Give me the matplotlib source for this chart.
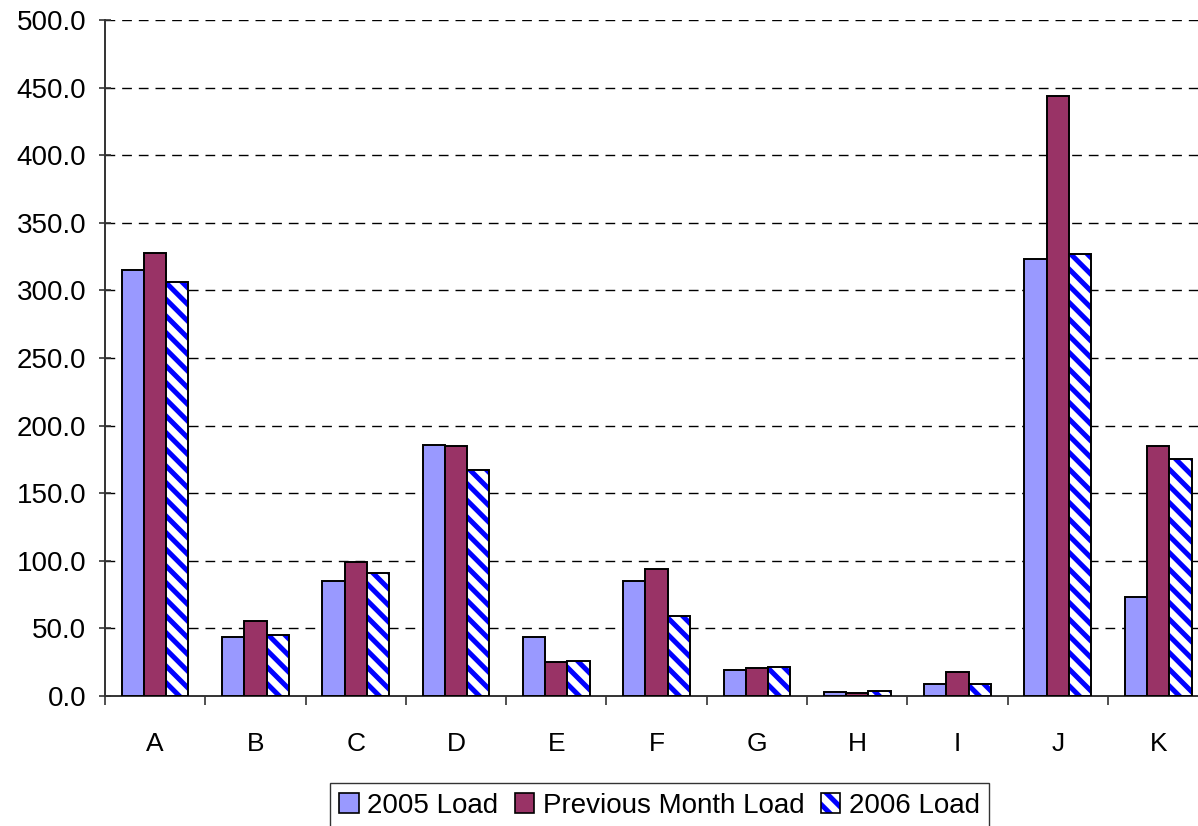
import numpy as np
import matplotlib.pyplot as plt
from matplotlib.patches import Patch

plt.rcParams['font.family'] = ['Liberation Sans', 'DejaVu Sans']
plt.rcParams['hatch.linewidth'] = 3.6

categories = ['A', 'B', 'C', 'D', 'E', 'F', 'G', 'H', 'I', 'J', 'K']
load_2005 = [315, 43.5, 85, 185.5, 43.5, 85, 19.2, 2.6, 8.5, 323, 73]
load_prev = [328, 55.5, 99, 185, 25, 94, 20.5, 2.4, 18, 444, 185]
load_2006 = [306, 45, 91, 167, 26, 59, 21.7, 3.8, 8.5, 327, 175]
yticks = np.arange(0, 501, 50)

fig = plt.figure(figsize=(11.98, 8.26), dpi=100)
ax = fig.add_axes([0.0876, 0.1574, 0.921, 0.8184])

x = np.arange(len(categories))
w = 0.222
ax.bar(x - w, load_2005, w, color='#9999FF', edgecolor='black', linewidth=1.4, zorder=3)
ax.bar(x, load_prev, w, color='#993366', edgecolor='black', linewidth=1.4, zorder=3)
# hatched bars: blue stripes first, black outline on top
ax.bar(x + w, load_2006, w, color='white', edgecolor='#0000FF', hatch='\\\\', linewidth=0, zorder=3)
ax.bar(x + w, load_2006, w, fill=False, edgecolor='black', linewidth=1.4, zorder=4)

ax.set_xlim(-0.5, len(categories) - 0.5)
ax.set_ylim(0, 500)
ax.set_yticks(yticks)
ax.set_yticklabels([f'{v:.1f}' for v in yticks], fontsize=20)
for v in yticks[1:]:
    ax.axhline(v, color='black', linewidth=1, linestyle=(0, (7, 5)), zorder=1)

ax.set_xticks(np.arange(-0.5, len(categories), 1))
ax.set_xticklabels([])
ax.set_xticks(x, minor=True)
ax.set_xticklabels(categories, minor=True, fontsize=19)
ax.tick_params(axis='x', which='major', direction='out', length=6.5, width=1.2, color='#333333')
ax.tick_params(axis='x', which='minor', length=0, pad=26)
ax.tick_params(axis='y', direction='inout', length=9, width=1.2, color='#333333', pad=9)

for side in ['top', 'right']:
    ax.spines[side].set_visible(False)
ax.spines['left'].set_linewidth(1.4)
ax.spines['left'].set_color('#333333')
ax.spines['bottom'].set_linewidth(1.4)
ax.spines['bottom'].set_color('#333333')

handles = [Patch(facecolor='#9999FF', edgecolor='black', linewidth=1.2),
           Patch(facecolor='#993366', edgecolor='black', linewidth=1.2),
           (Patch(facecolor='white', edgecolor='#0000FF', hatch='\\\\', linewidth=0),
            Patch(fill=False, edgecolor='black', linewidth=1.2))]
leg = fig.legend(handles, ['2005 Load', 'Previous Month Load', '2006 Load'],
                 loc='upper center', bbox_to_anchor=(0.5505, 0.052), ncol=3,
                 fontsize=20, frameon=True, fancybox=False, borderpad=0.35,
                 handlelength=0.7, handleheight=0.7, handletextpad=0.3,
                 columnspacing=0.6, borderaxespad=0)
leg.get_frame().set_edgecolor('black')
leg.get_frame().set_linewidth(1.0)

fig.savefig('out.png', dpi=100)
